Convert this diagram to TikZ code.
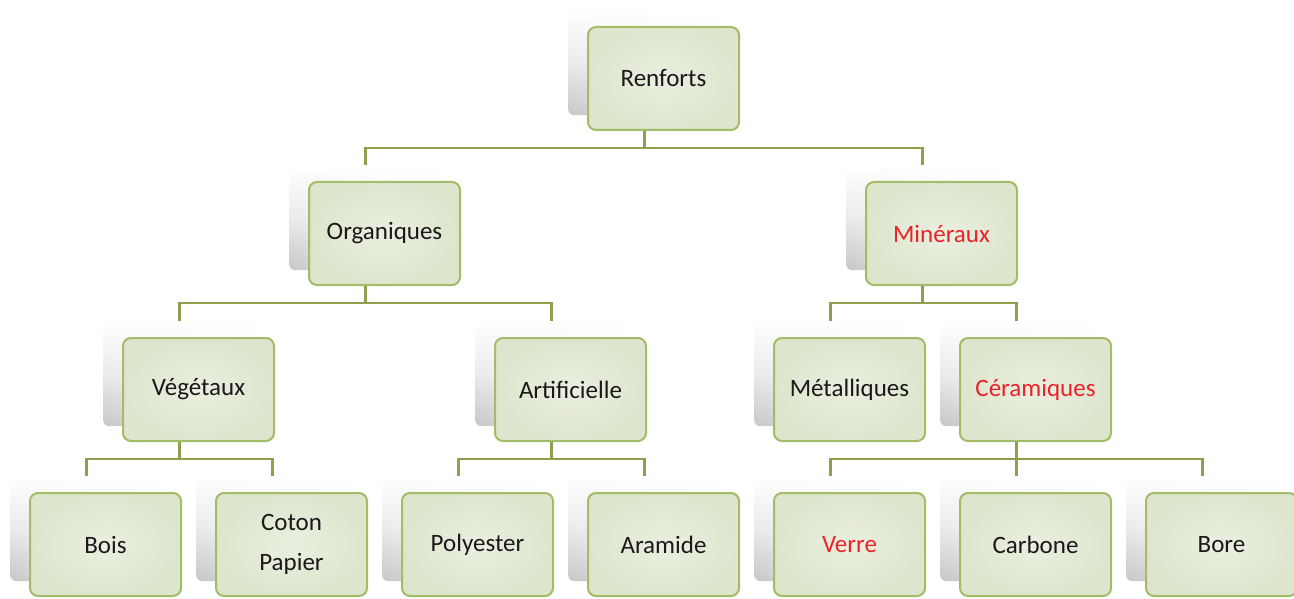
\documentclass[tikz,border=0pt]{standalone}
\usepackage{fontspec}
\setmainfont{Carlito}
\usetikzlibrary{fadings}
\definecolor{bordergreen}{HTML}{A3BC68}
\definecolor{linegreen}{HTML}{8EA04E}
\definecolor{fillin}{HTML}{EAEFE0}
\definecolor{fillout}{HTML}{DDE5CC}
\definecolor{redtxt}{HTML}{E8242A}
\tikzset{
  cardbox/.style={rectangle, rounded corners=8pt, draw=bordergreen, line width=2pt,
    inner color=fillin, outer color=fillout, minimum width=151pt, minimum height=103pt,
    align=center, font=\fontsize{25}{40}\selectfont, text=black!90, anchor=north west},
  shadowbox/.style={rectangle, rounded corners=6pt, top color=white, bottom color=black!22,
    middle color=black!8, path fading=east,
    minimum width=153pt, minimum height=105pt, anchor=north west, inner sep=0pt},
  conn/.style={draw=linegreen, line width=2.8pt},
  red/.style={text=redtxt}
}
\newcommand{\card}[5][]{%
  \node[shadowbox] (#2-s) at (#3-19,#4-16) {};
  \node[cardbox,#1] (#2) at (#3,#4) {#5};
}
\begin{document}
\begin{tikzpicture}[x=1pt,y=-1pt]
\clip (0,0) rectangle (1294,599);
\fill[white] (0,0) rectangle (1294,599);
% level 0
\card{renf}{587}{26}{Renforts}
% level 1
\card{org}{308}{181}{Organiques}
\card[red]{min}{865}{181}{Minéraux}
% level 2
\card{veg}{122}{337}{Végétaux}
\card{art}{494}{337}{Artificielle}
\card{met}{773}{337}{Métalliques}
\card[red]{cer}{959}{337}{Céramiques}
% level 3
\card{bois}{29}{492}{Bois}
\card{coton}{215}{492}{Coton\\Papier}
\card{poly}{401}{492}{Polyester}
\card{ara}{587}{492}{Aramide}
\card[red]{verre}{773}{492}{Verre}
\card{carb}{959}{492}{Carbone}
\card{bore}{1145}{492}{Bore}
% connectors
\foreach \p/\c in {renf/org, renf/min, org/veg, org/art, min/met, min/cer,
                   veg/bois, veg/coton, art/poly, art/ara, cer/verre, cer/carb, cer/bore}{
  \draw[conn] (\p.south -| \p-s.center) -- ++(0,17) -| (\c-s.north);
}
\end{tikzpicture}
\end{document}
